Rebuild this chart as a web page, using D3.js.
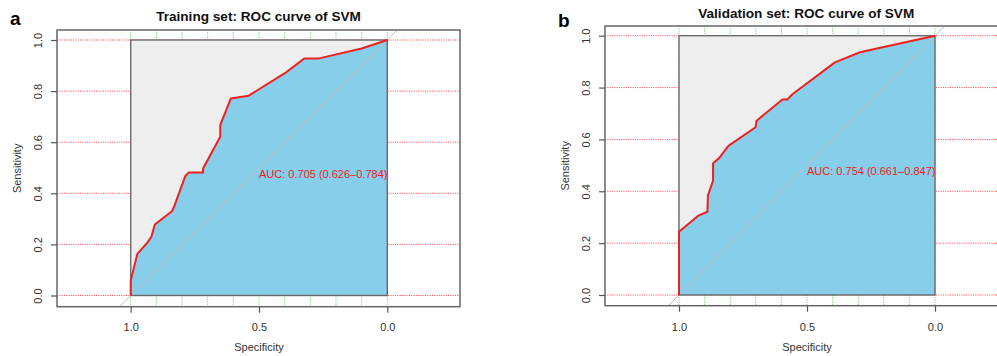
<!DOCTYPE html>
<html>
<head>
<meta charset="utf-8">
<script src="https://cdn.jsdelivr.net/npm/d3@7"></script>
<style>
  html, body { margin: 0; padding: 0; background: #fff; }
  svg { display: block; font-family: "Liberation Sans", Arial, Helvetica, sans-serif; }
</style>
</head>
<body>
<svg id="chart" width="997" height="356"></svg>
<script>
// ---- data ----
const specA = [1, 1, 0.995, 0.974, 0.935, 0.919, 0.906, 0.838, 0.829, 0.787, 0.774, 0.718, 0.718, 0.651, 0.651, 0.610, 0.540, 0.399, 0.323, 0.266, 0.100, 0];
const sensA = [0, 0.059, 0.078, 0.163, 0.207, 0.231, 0.278, 0.331, 0.353, 0.468, 0.481, 0.481, 0.497, 0.621, 0.667, 0.771, 0.782, 0.870, 0.928, 0.928, 0.967, 1];
const specB = [1, 1, 0.926, 0.889, 0.887, 0.867, 0.867, 0.844, 0.807, 0.701, 0.697, 0.596, 0.577, 0.557, 0.391, 0.293, 0];
const sensB = [0, 0.244, 0.305, 0.321, 0.383, 0.441, 0.508, 0.527, 0.575, 0.647, 0.672, 0.754, 0.754, 0.774, 0.897, 0.936, 1];
const yTicks = [0, 0.2, 0.4, 0.6, 0.8, 1.0];
const xTicks = [1.0, 0.5, 0.0];
const gridX = [0, 0.1, 0.2, 0.3, 0.4, 0.5, 0.6, 0.7, 0.8, 0.9, 1.0];
const panelLetters = ["a", "b"];
const titles = ["Training set: ROC curve of SVM", "Validation set: ROC curve of SVM"];
const aucLabels = ["AUC: 0.705 (0.626\u20130.784)", "AUC: 0.754 (0.661\u20130.847)"];
const xLabel = "Specificity";
const yLabel = "Sensitivity";

// ---- layout ----
const svg = d3.select("#chart");
const panels = [
  { spec: specA, sens: sensA, boxL: 57, boxR: 460, boxT: 30, boxB: 306.7, x1: 130.7, x0: 387.3, y0: 295.5, y1: 40,
    letterX: 10, letterY: 25, titleY: 21, yTickX: 42, yLabX: 21 },
  { spec: specB, sens: sensB, boxL: 605, boxR: 1007.5, boxT: 26, boxB: 305.7, x1: 679, x0: 935, y0: 295, y1: 35.7,
    letterX: 558, letterY: 26.5, titleY: 17.5, yTickX: 590, yLabX: 568.5 }
];

const RED = "#ee2020";

panels.forEach((p, i) => {
  const x = d3.scaleLinear().domain([1, 0]).range([p.x1, p.x0]);
  const y = d3.scaleLinear().domain([0, 1]).range([p.y0, p.y1]);
  const g = svg.append("g");
  const clipId = "clip" + i;
  svg.append("defs").append("clipPath").attr("id", clipId)
    .append("rect").attr("x", p.boxL).attr("y", p.boxT)
    .attr("width", p.boxR - p.boxL).attr("height", p.boxB - p.boxT);

  // grid
  g.selectAll(".hgrid").data(yTicks).join("line")
    .attr("x1", p.boxL).attr("x2", p.boxR)
    .attr("y1", d => y(d)).attr("y2", d => y(d))
    .attr("stroke", "#ff4040").attr("stroke-width", 1).attr("stroke-dasharray", "1,1.3");
  g.selectAll(".vgrid").data(gridX).join("line")
    .attr("y1", p.boxT).attr("y2", p.boxB)
    .attr("x1", d => x(d)).attr("x2", d => x(d))
    .attr("stroke", "#40dd40").attr("stroke-width", 1).attr("stroke-dasharray", "1,1.3");

  // max AUC polygon
  g.append("rect")
    .attr("x", x(1)).attr("y", y(1))
    .attr("width", x(0) - x(1)).attr("height", y(0) - y(1))
    .attr("fill", "#eeeeee");

  // AUC polygon
  const pts = p.spec.map((s, k) => [s, p.sens[k]]);
  const poly = [[1, 0]].concat(pts).concat([[0, 0]]);
  g.append("path")
    .attr("d", d3.line().x(d => x(d[0])).y(d => y(d[1]))(poly) + "Z")
    .attr("fill", "#87ceeb").attr("stroke", "none");

  // diagonal identity line
  const sL = x.invert(p.boxL), sR = x.invert(p.boxR);
  g.append("line")
    .attr("clip-path", "url(#" + clipId + ")")
    .attr("x1", x(sL)).attr("y1", y(1 - sL))
    .attr("x2", x(sR)).attr("y2", y(1 - sR))
    .attr("stroke", "#bdbdbd").attr("stroke-width", 1);

  // max polygon border
  g.append("rect")
    .attr("x", x(1)).attr("y", y(1))
    .attr("width", x(0) - x(1)).attr("height", y(0) - y(1))
    .attr("fill", "none").attr("stroke", "#6a6a6a").attr("stroke-width", 1.4);

  // ROC curve
  g.append("path")
    .attr("d", d3.line().x(d => x(d[0])).y(d => y(d[1]))(pts))
    .attr("fill", "none").attr("stroke", RED).attr("stroke-width", 2)
    .attr("stroke-linejoin", "round");

  // AUC text
  g.append("text")
    .attr("x", x(0.5)).attr("y", y(0.5) + 10)
    .attr("font-size", 11).attr("fill", RED)
    .text(aucLabels[i]);

  // plot box
  g.append("rect")
    .attr("x", p.boxL).attr("y", p.boxT)
    .attr("width", p.boxR - p.boxL).attr("height", p.boxB - p.boxT)
    .attr("fill", "none").attr("stroke", "#666").attr("stroke-width", 1.5);

  // y axis
  const ya = g.append("g").attr("transform", `translate(${p.boxL},0)`)
    .call(d3.axisLeft(y).tickValues(yTicks).tickFormat(d3.format(".1f")).tickSize(6));
  ya.select(".domain").remove();
  ya.selectAll(".tick line").attr("stroke", "#555").attr("stroke-width", 1.2);
  ya.selectAll(".tick text")
    .attr("x", 0).attr("dy", null).attr("y", p.yTickX - p.boxL)
    .attr("transform", "rotate(-90)")
    .attr("text-anchor", "middle")
    .attr("font-size", 11).attr("fill", "#333").attr("font-family", null);

  // x axis
  const xa = g.append("g").attr("transform", `translate(0,${p.boxB})`)
    .call(d3.axisBottom(x).tickValues(xTicks).tickFormat(d3.format(".1f")).tickSize(6));
  xa.select(".domain").remove();
  xa.selectAll(".tick line").attr("stroke", "#555").attr("stroke-width", 1.2);
  xa.selectAll(".tick text")
    .attr("dy", null).attr("y", 331 - p.boxB)
    .attr("font-size", 11).attr("fill", "#333").attr("font-family", null);

  // axis labels
  g.append("text")
    .attr("x", x(0.5)).attr("y", 351)
    .attr("text-anchor", "middle").attr("font-size", 11).attr("fill", "#333")
    .text(xLabel);
  g.append("text")
    .attr("transform", `translate(${p.yLabX},${(p.boxT + p.boxB) / 2}) rotate(-90)`)
    .attr("text-anchor", "middle").attr("font-size", 11).attr("fill", "#333")
    .text(yLabel);

  // title
  g.append("text")
    .attr("x", (p.boxL + p.boxR) / 2).attr("y", p.titleY)
    .attr("text-anchor", "middle").attr("font-size", 13.6).attr("font-weight", "bold")
    .attr("fill", "#111")
    .text(titles[i]);

  // panel letter
  g.append("text")
    .attr("x", p.letterX).attr("y", p.letterY)
    .attr("font-size", 19).attr("font-weight", "bold").attr("fill", "#000")
    .text(panelLetters[i]);
});
</script>
</body>
</html>
